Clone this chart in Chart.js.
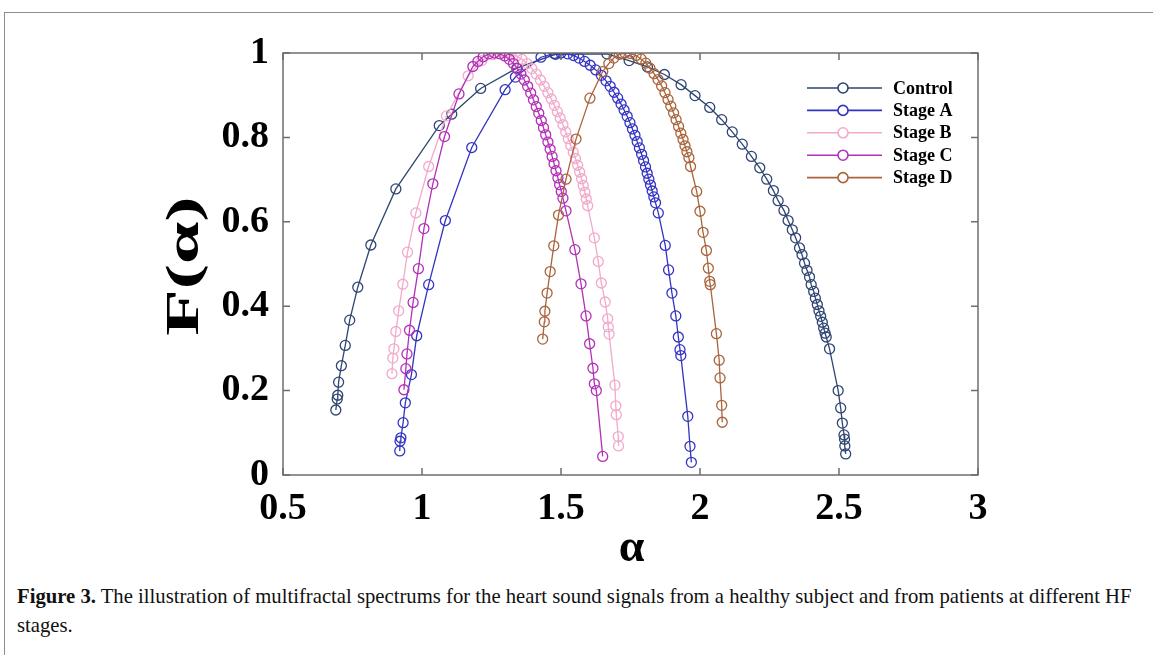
<!DOCTYPE html>
<html>
<head>
<meta charset="utf-8">
<script src="https://cdn.jsdelivr.net/npm/chart.js@4.4.1/dist/chart.umd.min.js"></script>
<style>
  body { margin: 0; background: #fff; width: 1153px; height: 655px; overflow: hidden; position: relative; }
  #frame { position: absolute; left: 4px; top: 12px; width: 1170px; height: 700px;
           border-left: 1.5px solid #8c8c8c; border-top: 1.5px solid #8c8c8c; }
  #wrap { position: absolute; left: 0; top: 0; width: 1153px; height: 580px; }
  #caption { position: absolute; left: 17px; top: 582px; width: 1135px;
             font-family: "Liberation Serif", serif; font-size: 20.7px; line-height: 29px; color: #111; }
</style>
</head>
<body>
<div id="frame"></div>
<div id="wrap"><canvas id="spectrum"></canvas></div>
<div id="caption"><b>Figure 3.</b> The illustration of multifractal spectrums for the heart sound signals from a healthy subject and from patients at different HF<br>stages.</div>

<script>
// singularity strength (alpha) and spectrum f(alpha) for each group
const controlAlpha = [0.690,0.695,0.697,0.700,0.710,0.724,0.740,0.769,0.816,0.906,1.062,1.107,1.211,1.341,1.480,1.665,1.745,1.811,1.872,1.932,1.982,2.035,2.078,2.116,2.152,2.185,2.215,2.240,2.264,2.281,2.302,2.317,2.332,2.344,2.358,2.367,2.376,2.385,2.394,2.400,2.409,2.415,2.422,2.428,2.434,2.440,2.445,2.450,2.454,2.466,2.497,2.506,2.512,2.518,2.520,2.521,2.524];
const controlF = [0.154,0.180,0.189,0.220,0.259,0.307,0.367,0.445,0.545,0.678,0.828,0.855,0.916,0.964,0.997,0.998,0.982,0.967,0.949,0.925,0.899,0.871,0.842,0.813,0.784,0.755,0.728,0.701,0.674,0.650,0.627,0.603,0.581,0.562,0.538,0.522,0.502,0.485,0.469,0.451,0.435,0.419,0.404,0.389,0.376,0.362,0.348,0.336,0.327,0.299,0.200,0.159,0.123,0.095,0.085,0.069,0.050];

const stageAAlpha = [0.920,0.921,0.924,0.932,0.940,0.962,0.981,1.024,1.084,1.179,1.299,1.336,1.428,1.476,1.500,1.524,1.545,1.565,1.585,1.605,1.625,1.645,1.662,1.677,1.691,1.704,1.716,1.727,1.738,1.748,1.757,1.766,1.774,1.782,1.790,1.797,1.804,1.810,1.816,1.822,1.828,1.834,1.840,1.850,1.875,1.887,1.899,1.913,1.922,1.928,1.931,1.956,1.964,1.969];
const stageAF = [0.057,0.080,0.088,0.124,0.171,0.238,0.330,0.451,0.603,0.776,0.913,0.943,0.990,0.999,1.000,0.998,0.994,0.988,0.980,0.971,0.960,0.947,0.934,0.921,0.907,0.893,0.879,0.865,0.850,0.835,0.820,0.805,0.790,0.775,0.760,0.745,0.730,0.715,0.701,0.687,0.673,0.659,0.645,0.621,0.544,0.486,0.431,0.377,0.327,0.297,0.283,0.139,0.068,0.030];

const stageBAlpha = [0.892,0.895,0.899,0.906,0.916,0.931,0.948,0.978,1.024,1.088,1.166,1.215,1.255,1.280,1.300,1.320,1.340,1.360,1.378,1.395,1.411,1.426,1.440,1.453,1.465,1.476,1.487,1.497,1.507,1.517,1.526,1.535,1.544,1.552,1.560,1.567,1.574,1.580,1.586,1.591,1.596,1.620,1.634,1.645,1.659,1.668,1.670,1.673,1.694,1.697,1.699,1.706,1.707];
const stageBF = [0.240,0.277,0.299,0.340,0.389,0.452,0.528,0.621,0.731,0.851,0.946,0.982,0.996,0.999,1.000,0.998,0.993,0.985,0.975,0.963,0.950,0.936,0.921,0.906,0.891,0.876,0.861,0.846,0.830,0.813,0.797,0.781,0.765,0.750,0.734,0.718,0.702,0.686,0.670,0.654,0.638,0.562,0.506,0.455,0.410,0.370,0.351,0.334,0.213,0.164,0.143,0.091,0.069];

const stageCAlpha = [0.935,0.942,0.946,0.955,0.968,0.987,1.007,1.039,1.081,1.133,1.183,1.201,1.220,1.240,1.260,1.280,1.298,1.314,1.329,1.343,1.356,1.368,1.380,1.391,1.401,1.411,1.420,1.429,1.437,1.445,1.453,1.461,1.468,1.475,1.482,1.489,1.495,1.501,1.507,1.518,1.550,1.572,1.590,1.603,1.615,1.620,1.627,1.650];
const stageCF = [0.202,0.252,0.287,0.343,0.409,0.489,0.584,0.690,0.802,0.903,0.968,0.980,0.991,0.998,1.000,0.998,0.993,0.985,0.975,0.963,0.950,0.936,0.921,0.905,0.889,0.873,0.857,0.840,0.823,0.806,0.789,0.772,0.755,0.738,0.721,0.704,0.688,0.672,0.656,0.626,0.534,0.453,0.377,0.311,0.253,0.216,0.200,0.044];

const stageDAlpha = [1.434,1.440,1.442,1.450,1.461,1.474,1.491,1.518,1.554,1.604,1.650,1.672,1.690,1.710,1.730,1.750,1.770,1.788,1.805,1.820,1.835,1.849,1.862,1.874,1.885,1.895,1.905,1.914,1.923,1.931,1.939,1.946,1.953,1.960,1.966,1.988,2.000,2.011,2.023,2.030,2.035,2.037,2.059,2.069,2.072,2.078,2.080];
const stageDF = [0.322,0.363,0.388,0.431,0.482,0.543,0.616,0.701,0.796,0.893,0.956,0.975,0.988,0.997,1.000,0.999,0.994,0.986,0.976,0.964,0.951,0.937,0.922,0.906,0.890,0.874,0.858,0.842,0.826,0.810,0.795,0.780,0.766,0.752,0.731,0.672,0.625,0.575,0.532,0.490,0.459,0.451,0.335,0.272,0.230,0.165,0.125];

const groupNames = ["Control", "Stage A", "Stage B", "Stage C", "Stage D"];
const groupColors = ["#2f4573", "#3434c4", "#f2a9cb", "#b330b8", "#a9643b"];
const xTicks = [0.5, 1, 1.5, 2, 2.5, 3];
const yTicks = [0, 0.2, 0.4, 0.6, 0.8, 1];

const alphas = [controlAlpha, stageAAlpha, stageBAlpha, stageCAlpha, stageDAlpha];
const fs = [controlF, stageAF, stageBF, stageCF, stageDF];

const toPoints = (xs, ys) => xs.map((x, i) => ({ x: x, y: ys[i] }));

const serif = "'Liberation Serif', 'Times New Roman', serif";

// box, inward ticks, axis titles and the legend
const framePlugin = {
    id: "framePlugin",
    afterDraw(chart) {
        const ctx = chart.ctx;
        const a = chart.chartArea;
        const xs = chart.scales.x;
        const ys = chart.scales.y;
        const tick = 7;

        ctx.save();
        ctx.strokeStyle = "#6e6e6e";
        ctx.lineWidth = 1.5;
        ctx.strokeRect(a.left, a.top, a.right - a.left, a.bottom - a.top);

        ctx.beginPath();
        xTicks.forEach(v => {
            const px = xs.getPixelForValue(v);
            ctx.moveTo(px, a.bottom); ctx.lineTo(px, a.bottom - tick);
            ctx.moveTo(px, a.top); ctx.lineTo(px, a.top + tick);
        });
        yTicks.forEach(v => {
            const py = ys.getPixelForValue(v);
            ctx.moveTo(a.left, py); ctx.lineTo(a.left + tick, py);
            ctx.moveTo(a.right, py); ctx.lineTo(a.right - tick, py);
        });
        ctx.stroke();

        // axis titles
        ctx.fillStyle = "#000";
        ctx.textAlign = "center";
        ctx.textBaseline = "middle";
        ctx.font = "bold 46px " + serif;
        ctx.fillText("\u03b1", (a.left + a.right) / 2 + 1, 549);
        ctx.save();
        ctx.translate(186, (a.top + a.bottom) / 2 + 2);
        ctx.rotate(-Math.PI / 2);
        ctx.scale(1.65, 1);
        ctx.fillText("F(\u03b1)", 0, 0);
        ctx.restore();

        // legend
        ctx.font = "bold 18px " + serif;
        ctx.textAlign = "left";
        chart.data.datasets.forEach((ds, i) => {
            const y = 88 + i * 22.4;
            ctx.strokeStyle = ds.borderColor;
            ctx.lineWidth = 1.6;
            ctx.beginPath();
            ctx.moveTo(807, y); ctx.lineTo(882, y);
            ctx.stroke();
            ctx.beginPath();
            ctx.arc(843, y, 5, 0, Math.PI * 2);
            ctx.fillStyle = "#fff";
            ctx.fill();
            ctx.stroke();
            ctx.fillStyle = "#000";
            ctx.fillText(ds.label, 893, y + 1);
        });
        ctx.restore();
    }
};

const datasets = groupNames.map((name, i) => ({
    label: name,
    data: toPoints(alphas[i], fs[i]),
    showLine: true,
    borderColor: groupColors[i],
    backgroundColor: "rgba(0,0,0,0)",
    borderWidth: 1.3,
    pointRadius: 5,
    pointBorderWidth: 1.3,
    pointStyle: "circle",
    order: groupNames.length - i
}));

const fmt = v => String(+Number(v).toFixed(1));

new Chart(document.getElementById("spectrum"), {
    type: "scatter",
    data: { datasets: datasets },
    options: {
        responsive: true,
        maintainAspectRatio: false,
        animation: false,
        layout: { padding: { left: 0, right: 175, top: 53, bottom: 40 } },
        plugins: { legend: { display: false }, tooltip: { enabled: false } },
        elements: { line: { tension: 0 } },
        scales: {
            x: {
                type: "linear",
                min: 0.5, max: 3,
                afterBuildTicks: s => { s.ticks = xTicks.map(v => ({ value: v })); },
                afterFit: s => { s.height = 65; },
                grid: { display: false, drawTicks: false },
                border: { display: false },
                ticks: {
                    padding: 11,
                    color: "#000",
                    font: { family: serif, size: 38, weight: "bold" },
                    callback: fmt
                }
            },
            y: {
                type: "linear",
                min: 0, max: 1,
                afterBuildTicks: s => { s.ticks = yTicks.map(v => ({ value: v })); },
                afterFit: s => { s.width = 283; },
                grid: { display: false, drawTicks: false },
                border: { display: false },
                ticks: {
                    padding: 14,
                    color: "#000",
                    font: { family: serif, size: 38, weight: "bold" },
                    callback: fmt
                }
            }
        }
    },
    plugins: [framePlugin]
});
</script>
</body>
</html>
